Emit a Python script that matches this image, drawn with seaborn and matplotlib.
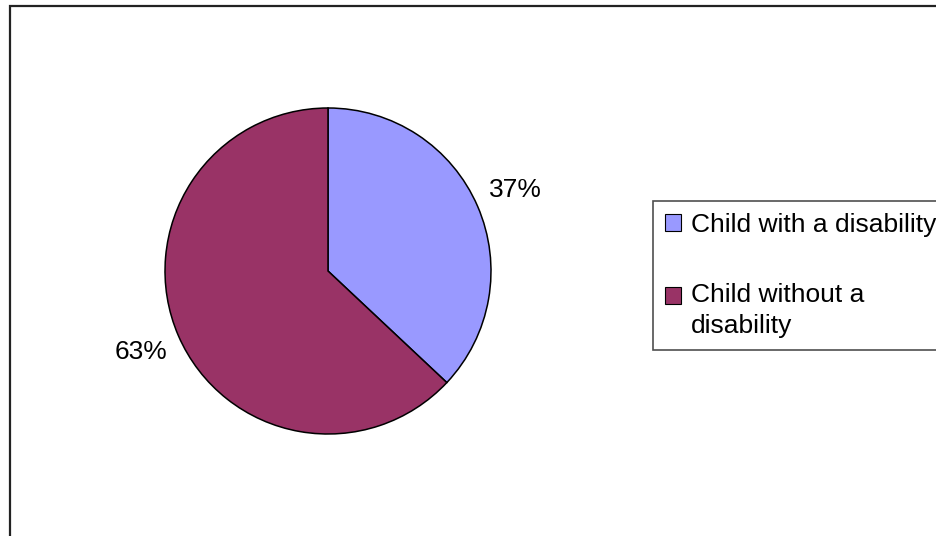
import textwrap
import matplotlib
matplotlib.use("Agg")
import matplotlib.pyplot as plt
from matplotlib.patches import Rectangle, Patch
from matplotlib.legend_handler import HandlerPatch
import seaborn as sns

categories = ["Child with a disability", "Child without a disability"]
values = [37, 63]
colors = ["#9999FF", "#993366"]

sns.set_theme(style="white")
plt.rcParams["font.family"] = ["Liberation Sans", "DejaVu Sans"]

W, H = 937, 536
FS = 19
fig = plt.figure(figsize=(W / 100, H / 100), dpi=100)
fig.patch.set_facecolor("white")

# pie axes: center (328, 271), radius 163 px; pie uses limits +-1.25
cx, cy, r = 328, 271, 163
half = 1.25 * r
ax = fig.add_axes([(cx - half) / W, (H - cy - half) / H, 2 * half / W, 2 * half / H])
palette = sns.color_palette(colors)
wedges, texts, autotexts = ax.pie(
    values,
    colors=palette,
    startangle=90,
    counterclock=False,
    autopct="%1.0f%%",
    pctdistance=1.25,
    wedgeprops=dict(edgecolor="black", linewidth=1.1),
    textprops=dict(fontsize=FS, color="black"),
)

# outer chart frame (partly clipped like the reference)
fig.patches.append(Rectangle((10 / W, -0.1), 1.2, (H - 6) / H + 0.1,
                             transform=fig.transFigure, fill=False,
                             edgecolor="#222222", linewidth=1.6))

labels = [textwrap.fill(c, 23) for c in categories]
LINESPACING = 1.35


class TopAlignedHandler(HandlerPatch):
    """Square legend key aligned with the first line of a multi-line label."""

    def __init__(self, nlines, **kw):
        super().__init__(**kw)
        self.nlines = nlines

    def create_artists(self, legend, orig_handle, xdescent, ydescent,
                       width, height, fontsize, trans):
        shift = (self.nlines - 1) / 2 * fontsize * LINESPACING * 0.86
        p = Rectangle((-xdescent, -ydescent + shift), width, height,
                      facecolor=orig_handle.get_facecolor(),
                      edgecolor=orig_handle.get_edgecolor(),
                      linewidth=orig_handle.get_linewidth(),
                      transform=trans)
        return [p]


handles = [Patch(facecolor=c, edgecolor="black", linewidth=0.8) for c in palette]
handler_map = {h: TopAlignedHandler(lab.count("\n") + 1)
               for h, lab in zip(handles, labels)}
leg = fig.legend(handles, labels, loc="upper left",
                 bbox_to_anchor=(653 / W, 1 - 201 / H), borderaxespad=0,
                 fontsize=FS, frameon=True, fancybox=False,
                 handlelength=0.6, handleheight=0.6, handletextpad=0.4,
                 borderpad=0.45, labelspacing=1.75, labelcolor="black",
                 handler_map=handler_map)
for t in leg.get_texts():
    t.set_linespacing(LINESPACING)
leg.get_frame().set_edgecolor("#222222")
leg.get_frame().set_linewidth(1.2)

fig.savefig("out.png", dpi=100, facecolor="white")
